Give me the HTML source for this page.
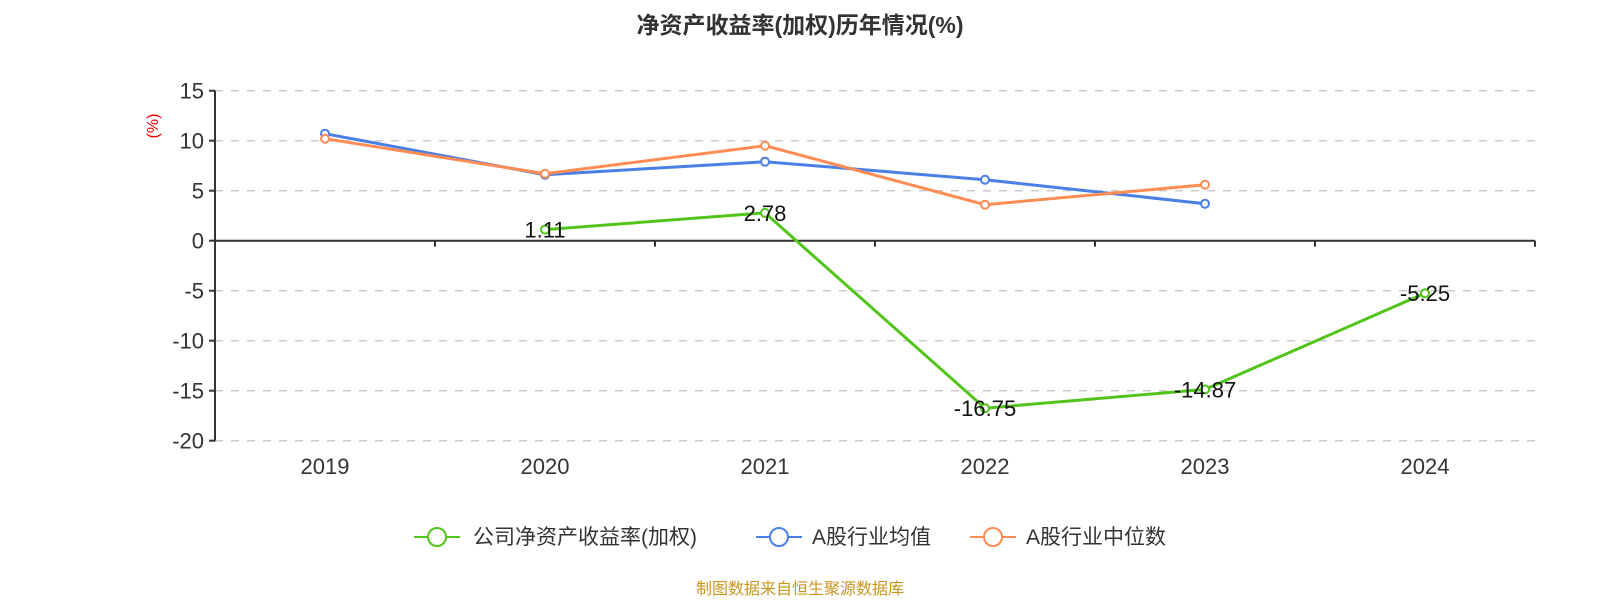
<!DOCTYPE html>
<html><head><meta charset="utf-8"><style>
body{margin:0;background:#fff;}
svg{display:block;font-family:"Liberation Sans","Noto Sans CJK SC",sans-serif;}
</style></head><body>
<svg width="1600" height="600" id="c">
<text x="800" y="33" text-anchor="middle" font-size="23" font-weight="bold" fill="#333">净资产收益率(加权)历年情况(%)</text>
<text transform="translate(158,126) rotate(-90)" text-anchor="middle" font-size="16" fill="#e00">(%)</text>
<g id="grid"></g><g id="axes"></g><g id="series"></g>
<g>
<g><line x1="414" y1="537" x2="460" y2="537" stroke="#52c41a" stroke-width="2"/><circle cx="437" cy="537" r="9" fill="#fff" stroke="#52c41a" stroke-width="2"/><text x="473" y="544" font-size="21" fill="#333">公司净资产收益率(加权)</text></g>
<g><line x1="756" y1="537" x2="802" y2="537" stroke="#4a7fe6" stroke-width="2"/><circle cx="779" cy="537" r="9" fill="#fff" stroke="#4a7fe6" stroke-width="2"/><text x="812" y="544" font-size="21" fill="#333">A股行业均值</text></g>
<g><line x1="970" y1="537" x2="1016" y2="537" stroke="#ff8c55" stroke-width="2"/><circle cx="993" cy="537" r="9" fill="#fff" stroke="#ff8c55" stroke-width="2"/><text x="1026" y="544" font-size="21" fill="#333">A股行业中位数</text></g>
</g>
<text x="800" y="594" text-anchor="middle" font-size="16" fill="#c8961e">制图数据来自恒生聚源数据库</text>
</svg>
<script>
const categories=["2019","2020","2021","2022","2023","2024"];
const companyValues=[null,1.11,2.78,-16.75,-14.87,-5.25];
const avgValues=[10.7,6.6,7.9,6.1,3.7,null];
const medianValues=[10.2,6.7,9.5,3.6,5.6,null];
const yTicks=[15,10,5,0,-5,-10,-15,-20];
const NS="http://www.w3.org/2000/svg";
const X0=215,X1=1535,band=(X1-X0)/categories.length;
const xPos=i=>X0+band*(i+0.5);
const yPos=v=>240.7-v*10;
function mk(tag,attrs,parent){const e=document.createElementNS(NS,tag);for(const k in attrs)e.setAttribute(k,attrs[k]);parent.appendChild(e);return e;}
const grid=document.getElementById('grid'),axes=document.getElementById('axes'),ser=document.getElementById('series');
yTicks.forEach(t=>{
 const y=yPos(t);
 if(t!==0){const l=mk('line',{x1:X0,x2:X1,y1:y,y2:y,stroke:'#ccc','stroke-dasharray':'8,8','stroke-width':1.5},grid);
 
 }
 const tk=mk('line',{x1:X0-6,x2:X0,y1:y,y2:y,stroke:'#333','stroke-width':2},axes);
 
 
 const tx=mk('text',{x:X0-11,y:y+8,'text-anchor':'end','font-size':22,fill:'#333'},axes);
 tx.textContent=t;
 
 
});
const ya=mk('line',{x1:X0,x2:X0,y1:yPos(15),y2:yPos(-20),stroke:'#333','stroke-width':2},axes);


const xa=mk('line',{x1:X0,x2:X1,y1:yPos(0),y2:yPos(0),stroke:'#333','stroke-width':2},axes);


for(let i=0;i<=categories.length;i++){
 const x=X0+band*i;
 const tk=mk('line',{x1:x,x2:x,y1:yPos(0),y2:yPos(0)+6,stroke:'#333','stroke-width':2},axes);
 
 
}
categories.forEach((c,i)=>{
 const t=mk('text',{x:xPos(i),y:474,'text-anchor':'middle','font-size':22,fill:'#333'},axes);
 t.textContent=c;
 
 
});
function series(vals,color,name,labels){
 const pts=[];vals.forEach((v,i)=>{if(v!==null)pts.push([xPos(i),yPos(v),v]);});
 const p=mk('polyline',{points:pts.map(p=>p[0]+','+p[1]).join(' '),fill:'none',stroke:color,'stroke-width':3},ser);
 
 
 pts.forEach(q=>{
  const c=mk('circle',{cx:q[0],cy:q[1],r:4,fill:'#fff',stroke:color,'stroke-width':2},ser);
  
  
  if(labels){const t=mk('text',{x:q[0],y:q[1]+8,'text-anchor':'middle','font-size':22,fill:'#111'},ser);
  t.textContent=q[2].toFixed(2);
  
  }
 });
}
series(avgValues,'#4a7fe6','industry-avg',false);
series(medianValues,'#ff8c55','industry-median',false);
series(companyValues,'#52c41a','company-roe',true);
</script>
</body></html>
